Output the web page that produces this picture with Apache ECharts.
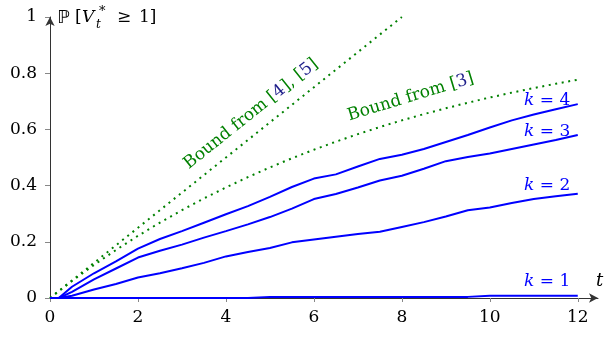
<!DOCTYPE html>
<html><head><meta charset="utf-8">
<script src="https://cdn.jsdelivr.net/npm/echarts@6/dist/echarts.min.js"></script>
<style>html,body{margin:0;padding:0;background:#fff}#c{width:604px;height:337px}</style>
</head><body><div id="c"></div>
<script>
// ---- data ----
const tGrid = [0, 0.2, 0.5, 1, 1.5, 2, 2.5, 3, 3.5, 4, 4.5, 5, 5.5, 6, 6.5, 7, 7.5, 8, 8.5, 9, 9.5, 10, 10.5, 11, 11.5, 12];
const k4 = [0, 0, 0.04, 0.088, 0.13, 0.176, 0.21, 0.238, 0.268, 0.298, 0.327, 0.36, 0.395, 0.425, 0.44, 0.468, 0.495, 0.51, 0.53, 0.555, 0.58, 0.607, 0.632, 0.653, 0.672, 0.69];
const k3 = [0, 0, 0.022, 0.066, 0.105, 0.144, 0.168, 0.19, 0.215, 0.238, 0.262, 0.288, 0.318, 0.352, 0.37, 0.393, 0.418, 0.435, 0.46, 0.487, 0.502, 0.514, 0.53, 0.546, 0.562, 0.58];
const k2 = [0, 0, 0.008, 0.03, 0.05, 0.073, 0.088, 0.106, 0.125, 0.148, 0.164, 0.178, 0.198, 0.208, 0.218, 0.228, 0.236, 0.253, 0.27, 0.29, 0.312, 0.322, 0.338, 0.352, 0.362, 0.371];
const k1 = [0, 0, 0, 0, 0, 0, 0, 0, 0, 0, 0, 0.004, 0.004, 0.004, 0.004, 0.004, 0.004, 0.004, 0.004, 0.004, 0.004, 0.008, 0.008, 0.008, 0.008, 0.008];
const tB45 = [0, 8];
const vB45 = [0, 1];
const tB3 = [0, 0.5, 1, 1.5, 2, 2.5, 3, 3.5, 4, 4.5, 5, 5.5, 6, 6.5, 7, 7.5, 8, 8.5, 9, 9.5, 10, 10.5, 11, 11.5, 12];
const vB3 = [0, 0.0606, 0.1175, 0.1709, 0.2212, 0.2684, 0.3127, 0.3543, 0.3935, 0.4302, 0.4647, 0.4972, 0.5276, 0.5563, 0.5831, 0.6084, 0.6321, 0.6544, 0.6753, 0.6950, 0.7135, 0.7308, 0.7472, 0.7624, 0.7769];
const xTicks = [0, 2, 4, 6, 8, 10, 12];
const yTicks = [0, 0.2, 0.4, 0.6, 0.8, 1];
const kLabels = ['k = 1', 'k = 2', 'k = 3', 'k = 4'];

const zip = (xs, ys) => xs.map((x, i) => [x, ys[i]]);
const FONT = 'DejaVu Serif';
const FS = 17;
const BLUE = '#0000ff', GREEN = '#008000', NAVY = '#1f1f8a';

const chart = echarts.init(document.getElementById('c'), null, {renderer: 'canvas'});

const baseX = {
  type: 'value', min: 0, max: 12.46, interval: 2, gridIndex: 0,
  splitLine: {show: false}
};
const baseY = {
  type: 'value', min: 0, max: 1, interval: 0.2, gridIndex: 0,
  splitLine: {show: false}
};

const lineS = (name, data, color, width, type) => ({
  name, type: 'line', data, showSymbol: false, symbol: 'none', smooth: false,
  lineStyle: {color, width, type: type || 'solid', cap: 'butt'}, z: 5, animation: false
});

chart.setOption({
  animation: false,
  grid: {left: 50, right: 6, top: 17, bottom: 39},
  xAxis: [
    Object.assign({}, baseX, {
      axisLine: {show: true, symbol: ['none', 'arrow'], symbolSize: [7, 9], lineStyle: {color: '#333', width: 1}},
      axisTick: {show: true, length: 4, customValues: xTicks, lineStyle: {color: '#888'}},
      axisLabel: {show: true, customValues: xTicks, margin: 11, fontFamily: FONT, fontSize: FS, color: '#000'}
    }),
    Object.assign({}, baseX, {
      axisLine: {show: false},
      axisTick: {show: true, inside: true, length: 4, customValues: xTicks, lineStyle: {color: '#888'}},
      axisLabel: {show: false}
    })
  ],
  yAxis: [
    Object.assign({}, baseY, {
      axisLine: {show: true, symbol: ['none', 'arrow'], symbolSize: [7, 9], lineStyle: {color: '#333', width: 1}},
      axisTick: {show: true, length: 5, customValues: yTicks, lineStyle: {color: '#888'}},
      axisLabel: {show: true, customValues: yTicks, margin: 13, fontFamily: FONT, fontSize: FS, color: '#000',
        formatter: v => String(Math.round(v * 10) / 10)}
    }),
    Object.assign({}, baseY, {
      axisLine: {show: false},
      axisTick: {show: true, inside: true, length: 5, customValues: yTicks, lineStyle: {color: '#888'}},
      axisLabel: {show: false}
    })
  ],
  series: [
    lineS('b45', zip(tB45, vB45), GREEN, 2, [2, 4.6]),
    lineS('b3', zip(tB3, vB3), GREEN, 2, [2, 4.6]),
    lineS('k1', zip(tGrid, k1), BLUE, 2),
    lineS('k2', zip(tGrid, k2), BLUE, 2),
    lineS('k3', zip(tGrid, k3), BLUE, 2),
    lineS('k4', zip(tGrid, k4), BLUE, 2)
  ]
});

const px = (pt) => chart.convertToPixel({gridIndex: 0}, pt);
const txt = (pos, text, opts) => Object.assign({
  type: 'text', x: pos[0], y: pos[1], z: 10,
  style: Object.assign({text, fontFamily: FONT, fontSize: FS, fill: '#000', align: 'left', verticalAlign: 'middle'}, opts || {})
});
const kRich = {i: {fontStyle: 'italic', fontFamily: FONT, fontSize: FS, fill: BLUE}};
const nRich = {n: {fontFamily: FONT, fontSize: FS, fill: NAVY}};

const kAnchors = [[11.83, 0.06], [11.83, 0.399], [11.83, 0.592], [11.83, 0.7025]];
const graphics = [];
kLabels.forEach((s, i) => {
  const p = px(kAnchors[i]);
  graphics.push(txt(p, s.replace('k', '{i|k}'), {fill: BLUE, align: 'right', rich: kRich}));
});
const g1 = px([4.57, 0.655]);
graphics.push(Object.assign(txt(g1, 'Bound from [{n|4}], [{n|5}]', {fill: GREEN, align: 'center', rich: nRich}), {rotation: 38.6 * Math.PI / 180}));
const g2 = px([8.2, 0.715]);
graphics.push(Object.assign(txt(g2, 'Bound from [{n|3}]', {fill: GREEN, align: 'center', rich: nRich}), {rotation: 17 * Math.PI / 180}));
// axis titles
graphics.push(txt([596, 281], 't', {fontStyle: 'italic', fontSize: 18}));
graphics.push(txt([57, 18], '\u2119', {fontSize: 18, fontFamily: 'DejaVu Sans'}));
graphics.push(txt([75, 18], '[', {fontSize: FS}));
graphics.push(txt([82, 18], 'V', {fontSize: FS, fontStyle: 'italic'}));
graphics.push(txt([96, 25], 't', {fontSize: 12, fontStyle: 'italic'}));
graphics.push(txt([99, 12], '*', {fontSize: 13}));
graphics.push(txt([117, 18], '\u2265', {fontSize: FS}));
graphics.push(txt([139, 18], '1]', {fontSize: FS}));
chart.setOption({graphic: graphics});
</script>
</body></html>
